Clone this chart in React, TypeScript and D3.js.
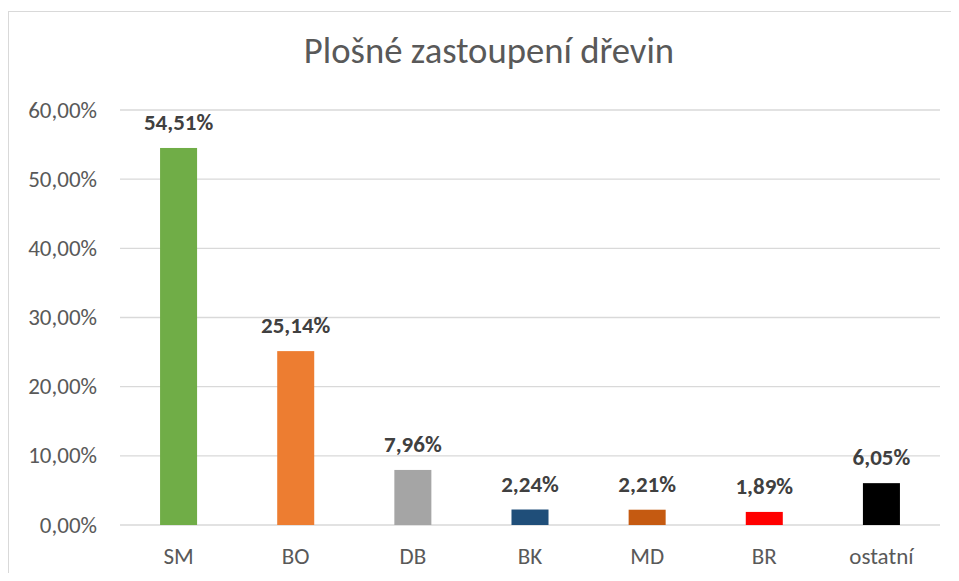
import React from "react";
import * as d3 from "d3";

const categories = ["SM", "BO", "DB", "BK", "MD", "BR", "ostatní"];
const values = [54.51, 25.14, 7.96, 2.24, 2.21, 1.89, 6.05];
const barColors = ["#70AD47", "#ED7D31", "#A5A5A5", "#1F4E79", "#C55A11", "#FF0000", "#000000"];
const yTicks = [0, 10, 20, 30, 40, 50, 60];
const title = "Plošné zastoupení dřevin";

const W = 943;
const H = 565;
const FONT = "Carlito, Calibri, 'Open Sans', sans-serif";

const fmt = (v: number) => v.toFixed(2).replace(".", ",") + "%";

export default function App() {
  const x = d3.scaleBand<string>().domain(categories).range([112, 932]).paddingInner(0.684).paddingOuter(0.342);
  const y = d3.scaleLinear().domain([0, 60]).range([517, 102]);

  return (
    <svg width={W} height={H} style={{ display: "block", fontFamily: FONT }}>
      <rect x={0.5} y={3.5} width={1000} height={700} fill="#fff" stroke="#d9d9d9" strokeWidth={1} />
      <text x={481} y={55} textAnchor="middle" fontSize={36.7} fill="#595959">{title}</text>
      {yTicks.map((t) => (
        <g key={t}>
          <line x1={112} x2={932} y1={y(t)} y2={y(t)} stroke="#d9d9d9" strokeWidth={1.3} />
          <text x={89} y={y(t)} dy="0.33em" textAnchor="end" fontSize={23} fill="#595959">{fmt(t)}</text>
        </g>
      ))}
      {categories.map((c, i) => (
        <g key={c}>
          <rect x={x(c)} y={y(values[i])} width={x.bandwidth()} height={y(0) - y(values[i])} fill={barColors[i]} />
          <text x={(x(c) as number) + x.bandwidth() / 2} y={y(values[i]) - 18} textAnchor="middle" fontSize={23} fontWeight="bold" fill="#404040">{fmt(values[i])}</text>
          <text x={(x(c) as number) + x.bandwidth() / 2} y={556} textAnchor="middle" fontSize={23} fill="#595959">{c}</text>
        </g>
      ))}
    </svg>
  );
}
